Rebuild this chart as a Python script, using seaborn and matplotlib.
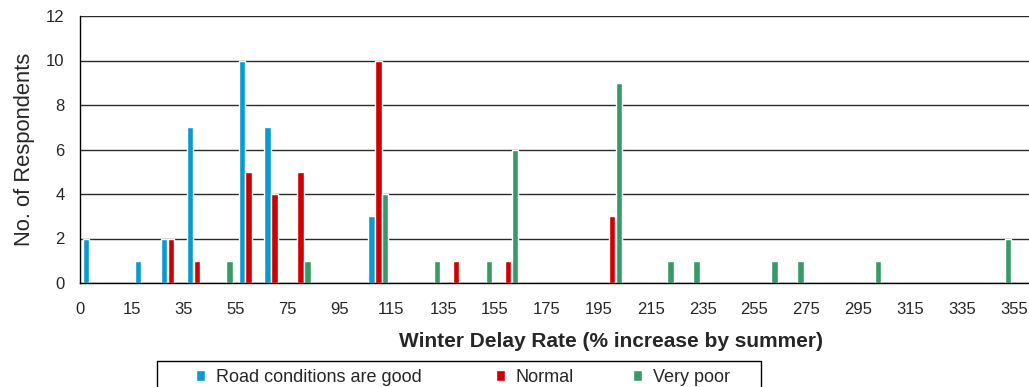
import matplotlib
matplotlib.use("Agg")
import matplotlib.pyplot as plt
from matplotlib.patches import Rectangle
import seaborn as sns
import pandas as pd

# ---- data ----
bin_centers = list(range(0, 370, 10))           # category bins (0..360)
good_bins = [0, 20, 30, 40, 60, 70, 110]
good_counts = [2, 1, 2, 7, 10, 7, 3]
normal_bins = [30, 40, 60, 70, 80, 110, 140, 160, 200]
normal_counts = [2, 1, 5, 4, 5, 10, 1, 1, 3]
poor_bins = [50, 80, 110, 130, 150, 160, 200, 220, 230, 260, 270, 300, 350]
poor_counts = [1, 1, 4, 1, 1, 6, 9, 1, 1, 1, 1, 1, 2]
series_names = ["Road conditions are good", "Normal", "Very poor"]
series_colors = ["#0A9AD0", "#D00000", "#379A68"]
xtick_labels = ["0"] + [str(v) for v in range(15, 360, 20)]
yticks = [0, 2, 4, 6, 8, 10, 12]

rows = []
for name, bins, counts in zip(series_names,
                              [good_bins, normal_bins, poor_bins],
                              [good_counts, normal_counts, poor_counts]):
    for b, c in zip(bins, counts):
        rows.append({"bin": str(b), "condition": name, "count": c})
df = pd.DataFrame(rows)

sns.set_style("white")
plt.rcParams["font.family"] = ["Liberation Sans", "DejaVu Sans"]

W, H = 1029, 387
fig = plt.figure(figsize=(W / 100, H / 100), dpi=100)
ax = fig.add_axes([80 / W, 1 - 283 / H, 1 - 80 / W, (283 - 16) / H])

sns.barplot(data=df, x="bin", y="count", hue="condition",
            order=[str(b) for b in bin_centers], hue_order=series_names,
            palette=series_colors, errorbar=None, width=0.8, gap=0.08,
            saturation=1, ax=ax, legend=True)

# axes styling
ax.set_ylim(0, 12)
ax.set_xlim(-0.5, 36.08)
ax.set_yticks(yticks)
ax.set_yticklabels([str(v) for v in yticks], fontsize=12)
ax.yaxis.grid(True, color="#2a2a2a", linewidth=1.0)
ax.set_axisbelow(True)
for s in ["top", "right"]:
    ax.spines[s].set_visible(False)
for s in ["left", "bottom"]:
    ax.spines[s].set_color("black")
    ax.spines[s].set_linewidth(1.0)

major = [t - 0.5 for t in range(0, 37, 2)]
minor = [t - 0.5 for t in range(1, 37, 2)]
ax.set_xticks(major)
ax.set_xticklabels(xtick_labels, fontsize=12)
ax.set_xticks(minor, minor=True)
ax.tick_params(axis="x", which="both", direction="in", length=4.5,
               width=1, color="black", pad=13.5)
ax.tick_params(axis="y", direction="out", length=3, width=1,
               color="black", pad=8)

ax.set_xlabel("Winter Delay Rate (% increase by summer)", fontsize=15,
              fontweight="bold")
ax.xaxis.set_label_coords((611 - 80) / (W - 80), (283 - 332) / (283 - 16))
ax.set_ylabel("No. of Respondents", fontsize=15.8)
ax.yaxis.set_label_coords((35 - 80) / (W - 80), 0.5)

# legend: one entry per series, placed like the reference
handles, labels = ax.get_legend_handles_labels()
ax.get_legend().remove()
for h, lab, x0 in zip(handles, labels, [196, 496, 633]):
    fig.legend([h], [lab], loc="upper left",
               bbox_to_anchor=(x0 / W, 1 - 369 / H), frameon=False,
               fontsize=13, handlelength=0.5, handleheight=0.5,
               handletextpad=0.6, borderpad=0.0, borderaxespad=0.0)
fig.patches.append(Rectangle((157 / W, -0.2), (761 - 157) / W,
                             0.2 + (387 - 361) / H, transform=fig.transFigure,
                             fill=False, edgecolor="black", linewidth=1))

fig.savefig("out.png", dpi=100)
